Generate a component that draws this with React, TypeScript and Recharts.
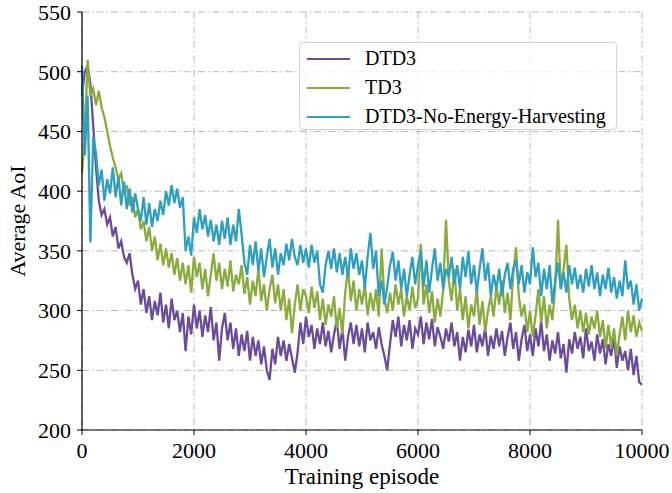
import React from "react";
import {
  LineChart,
  Line,
  XAxis,
  YAxis,
  CartesianGrid,
  Legend,
} from "recharts";

// episodes sampled every 50 steps, 0..10000
const episodes: number[] = Array.from({ length: 201 }, (_, i) => i * 50);

const dtd3: number[] = [
  480, 500, 505, 490, 455, 420, 392, 380, 385, 372,
  378, 362, 370, 352, 358, 345, 340, 348, 330, 318,
  325, 305, 318, 298, 312, 292, 308, 296, 315, 290,
  305, 285, 310, 292, 300, 282, 298, 266, 295, 280,
  305, 285, 300, 278, 296, 282, 303, 275, 290, 258,
  285, 298, 275, 290, 268, 285, 262, 280, 266, 283,
  258, 278, 262, 275, 255, 270, 250, 242, 268, 255,
  278, 262, 275, 258, 272, 260, 248, 265, 290, 272,
  295, 278, 288, 268, 285, 272, 290, 270, 283, 265,
  280, 292, 268, 285, 258, 278, 290, 272, 288, 270,
  285, 265, 290, 275, 282, 268, 286, 272, 262, 250,
  272, 292, 278, 295, 270, 288, 275, 292, 268, 285,
  280, 295, 272, 290, 276, 293, 270, 286, 278, 268,
  285, 274, 290, 270, 282, 258, 278, 265, 284, 270,
  288, 265, 280, 270, 286, 262, 279, 268, 285, 270,
  283, 262, 278, 290, 268, 282, 258, 276, 288, 266,
  280, 262, 285, 270, 291, 266, 280, 258, 275, 264,
  282, 260, 272, 248, 276, 264, 282, 268, 278, 260,
  285, 266, 274, 258, 280, 264, 276, 255, 272, 262,
  278, 252, 270, 258, 266, 250, 268, 246, 262, 240,
  238,
];

const td3: number[] = [
  415, 445, 510, 480, 486, 472, 484, 470, 462, 450,
  438, 428, 420, 410, 415, 398, 405, 388, 395, 378,
  385, 368, 375, 358, 370, 350, 362, 342, 356, 338,
  352, 336, 348, 330, 344, 325, 340, 322, 338, 315,
  345, 328, 340, 318, 335, 312, 330, 348, 325, 340,
  318, 335, 320, 342, 316, 330, 322, 338, 314, 328,
  305, 325, 312, 335, 308, 322, 300, 318, 330, 306,
  322, 300, 318, 292, 310, 281, 305, 322, 300, 318,
  312, 298, 320, 302, 316, 292, 310, 288, 305, 295,
  312, 285, 302, 280, 315, 335, 308, 325, 300, 318,
  305, 322, 296, 315, 300, 318, 295, 352, 310, 298,
  315, 300, 322, 305, 318, 295, 312, 300, 320, 302,
  310, 356, 305, 322, 298, 316, 290, 310, 295, 318,
  376, 325, 308, 335, 300, 318, 292, 312, 285, 305,
  295, 318, 288, 308, 282, 300, 312, 295, 320, 305,
  325, 298, 315, 292, 330, 353, 312, 295, 305, 282,
  300, 278, 296, 318, 290, 312, 285, 305, 292, 320,
  376, 318, 335, 355, 310, 292, 305, 285, 300, 282,
  298, 280, 295, 285, 300, 278, 292, 268, 288, 270,
  285, 262, 280, 295, 275, 300, 282, 296, 278, 290,
  283,
];

const noHarvest: number[] = [
  505, 430, 480, 357, 445, 432, 405, 418, 392, 410,
  398, 420, 395, 412, 388, 408, 385, 402, 382, 398,
  385, 375, 395, 372, 390, 370, 385, 375, 392, 380,
  400, 388, 405, 390, 402, 386, 395, 350, 362, 346,
  378, 365, 385, 368, 380, 362, 376, 358, 372, 355,
  375, 360, 378, 355, 372, 358, 385, 364, 340, 330,
  355, 338, 358, 333, 352, 328, 345, 360, 336, 352,
  330, 348, 338, 356, 342, 360, 345, 338, 355, 340,
  352, 336, 355, 340, 350, 322, 315, 338, 350, 335,
  352, 332, 348, 330, 345, 328, 352, 335, 348, 330,
  342, 318, 345, 365, 335, 350, 312, 325, 305, 320,
  338, 349, 325, 342, 318, 335, 312, 330, 345, 322,
  338, 350, 320, 342, 315, 335, 352, 325, 340, 318,
  335, 328, 345, 322, 338, 318, 345, 328, 350, 322,
  338, 315, 335, 352, 325, 340, 312, 330, 318, 335,
  312, 330, 340, 318, 335, 342, 322, 338, 315, 332,
  322, 353, 328, 340, 312, 335, 318, 338, 306, 325,
  340, 318, 332, 315, 338, 322, 336, 318, 330, 315,
  335, 320, 338, 318, 332, 312, 330, 318, 336, 315,
  328, 310, 325, 312, 342, 318, 325, 305, 322, 300,
  310,
];

const xTicks = [0, 2000, 4000, 6000, 8000, 10000];
const yTicks = [200, 250, 300, 350, 400, 450, 500, 550];

const data = episodes.map((ep, i) => ({
  ep,
  DTD3: dtd3[i],
  TD3: td3[i],
  "DTD3-No-Energy-Harvesting": noHarvest[i],
}));

const FONT = "'Liberation Serif', 'Times New Roman', serif";

const series = [
  { key: "DTD3", color: "#6b4c9a" },
  { key: "TD3", color: "#8aac3e" },
  { key: "DTD3-No-Energy-Harvesting", color: "#2f9fc0" },
];

function LegendBox() {
  return (
    <div
      style={{
        width: 318,
        height: 88,
        boxSizing: "border-box",
        border: "1px solid #d4d4d4",
        borderRadius: 4,
        background: "rgba(255,255,255,0.8)",
        paddingTop: 1,
      }}
    >
      {series.map((s) => (
        <div
          key={s.key}
          style={{ display: "flex", alignItems: "center", height: 29 }}
        >
          <div
            style={{
              marginLeft: 7,
              width: 43,
              height: 2,
              background: s.color,
            }}
          />
          <span
            style={{
              marginLeft: 15,
              fontFamily: FONT,
              fontSize: 20,
              lineHeight: "29px",
              color: "#000",
              whiteSpace: "nowrap",
            }}
          >
            {s.key}
          </span>
        </div>
      ))}
    </div>
  );
}

export default function App() {
  const tickStyle = { fontFamily: FONT, fontSize: 22, fill: "#000" };
  return (
    <div style={{ position: "absolute", left: 0, top: 0, background: "#fff" }}>
      <LineChart
        width={672}
        height={493}
        data={data}
        margin={{ top: 12, right: 30, bottom: 0, left: 0 }}
      >
        <CartesianGrid
          stroke="#b8b8b8"
          strokeDasharray="7 3 1.5 3"
          strokeWidth={1}
        />
        <XAxis
          dataKey="ep"
          type="number"
          domain={[0, 10000]}
          ticks={xTicks}
          interval={0}
          height={63}
          tick={tickStyle}
          tickSize={5}
          tickMargin={7}
          stroke="#000"
          tickLine={{ stroke: "#000" }}
          axisLine={{ stroke: "#000", strokeWidth: 1.2 }}
          label={{
            value: "Training episode",
            position: "insideBottom",
            offset: 9,
            style: { fontFamily: FONT, fontSize: 23, fill: "#000" },
          }}
        />
        <XAxis
          xAxisId="top"
          orientation="top"
          dataKey="ep"
          type="number"
          domain={[0, 10000]}
          ticks={xTicks}
          height={0}
          tick={false}
          tickLine={false}
          axisLine={{ stroke: "#000", strokeWidth: 1.2 }}
        />
        <YAxis
          type="number"
          domain={[200, 550]}
          ticks={yTicks}
          interval={0}
          width={82}
          tick={tickStyle}
          tickSize={5}
          tickMargin={6}
          tickLine={{ stroke: "#000" }}
          axisLine={{ stroke: "#000", strokeWidth: 1.2 }}
          allowDataOverflow
          label={{
            value: "Average AoI",
            angle: -90,
            position: "center",
            dx: -24,
            style: { fontFamily: FONT, fontSize: 22, fill: "#000" },
          }}
        />
        <YAxis
          yAxisId="right"
          orientation="right"
          type="number"
          domain={[200, 550]}
          width={0}
          tick={false}
          tickLine={false}
          axisLine={{ stroke: "#000", strokeWidth: 1.2 }}
        />
        {series.map((s) => (
          <Line
            key={s.key}
            type="linear"
            dataKey={s.key}
            stroke={s.color}
            strokeWidth={2.3}
            dot={false}
            isAnimationActive={false}
          />
        ))}
        <Legend
          layout="vertical"
          verticalAlign="middle"
          align="center"
          wrapperStyle={{ top: 42, left: 299, width: 318 }}
          content={() => <LegendBox />}
        />
      </LineChart>
    </div>
  );
}
